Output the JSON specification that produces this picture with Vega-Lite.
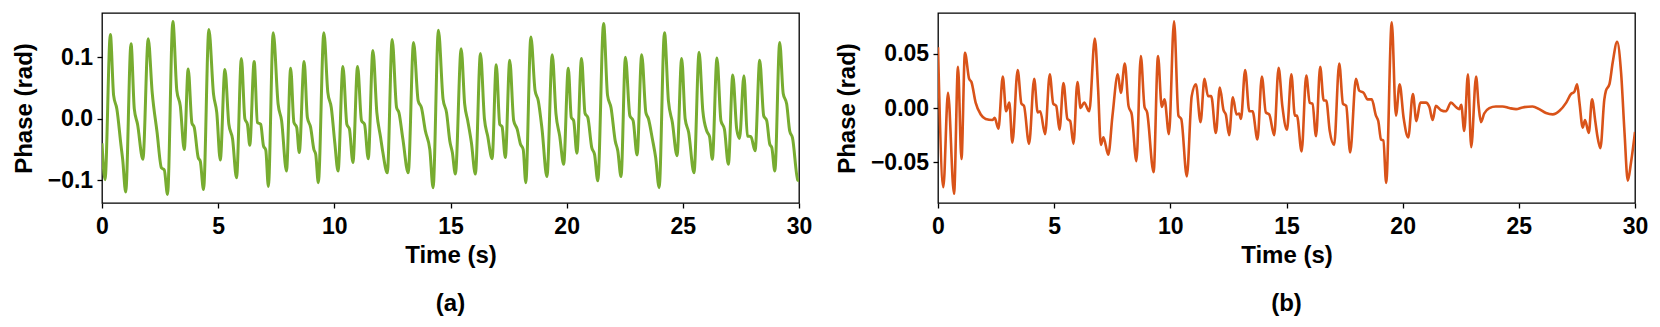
{
"$schema": "https://vega.github.io/schema/vega-lite/v6.json",
"background": "white",
"padding": {"left": 11, "top": 12, "right": 5, "bottom": 5},
"config": {
 "font": "Liberation Sans",
 "view": {"stroke": "black", "strokeWidth": 1.3},
 "axis": {"labelFont": "Liberation Sans", "labelFontWeight": "bold", "labelFontSize": 23, "labelColor": "black",
  "titleFont": "Liberation Sans", "titleFontWeight": "bold", "titleFontSize": 24, "titleColor": "black",
  "grid": false, "domain": false, "tickColor": "black", "tickWidth": 1.3, "tickSize": 5,
  "labelFlush": false, "labelOverlap": false},
 "axisX": {"labelPadding": 7.5, "titlePadding": 5},
 "axisY": {"labelPadding": 4.4, "titlePadding": 11},
 "title": {"font": "Liberation Sans", "fontWeight": "bold", "fontSize": 24, "color": "black", "orient": "bottom", "anchor": "middle", "frame": "group", "offset": 24},
 "concat": {"spacing": 21}
},
"datasets": {
 "a": [
{"t":0.00,"v":-0.040},{"t":0.13,"v":-0.099},{"t":0.36,"v":0.137},{"t":0.50,"v":0.038},{"t":0.64,"v":0.016},{"t":0.82,"v":-0.044},{"t":0.89,"v":-0.066},{"t":1.02,"v":-0.119},{"t":1.25,"v":0.122},{"t":1.39,"v":0.016},{"t":1.53,"v":-0.009},{"t":1.76,"v":-0.066},{"t":1.99,"v":0.130},{"t":2.16,"v":0.043},{"t":2.37,"v":-0.022},{"t":2.56,"v":-0.080},{"t":2.68,"v":-0.083},{"t":2.82,"v":-0.123},{"t":3.05,"v":0.158},{"t":3.22,"v":0.046},{"t":3.37,"v":0.021},{"t":3.54,"v":-0.050},{"t":3.71,"v":0.081},{"t":3.87,"v":-0.007},{"t":3.97,"v":-0.014},{"t":4.14,"v":-0.063},{"t":4.23,"v":-0.069},{"t":4.37,"v":-0.115},{"t":4.60,"v":0.145},{"t":4.80,"v":0.040},{"t":4.94,"v":0.010},{"t":5.09,"v":-0.067},{"t":5.29,"v":0.080},{"t":5.46,"v":-0.009},{"t":5.62,"v":-0.033},{"t":5.79,"v":-0.096},{"t":6.00,"v":0.098},{"t":6.15,"v":0.000},{"t":6.26,"v":-0.009},{"t":6.36,"v":-0.043},{"t":6.55,"v":0.093},{"t":6.69,"v":-0.006},{"t":6.83,"v":-0.009},{"t":6.95,"v":-0.044},{"t":7.05,"v":-0.051},{"t":7.16,"v":-0.110},{"t":7.37,"v":0.140},{"t":7.58,"v":0.024},{"t":7.73,"v":-0.003},{"t":7.94,"v":-0.085},{"t":8.12,"v":0.082},{"t":8.26,"v":-0.006},{"t":8.38,"v":-0.014},{"t":8.49,"v":-0.055},{"t":8.70,"v":0.093},{"t":8.84,"v":0.002},{"t":8.98,"v":-0.014},{"t":9.12,"v":-0.050},{"t":9.20,"v":-0.058},{"t":9.31,"v":-0.104},{"t":9.55,"v":0.140},{"t":9.72,"v":0.043},{"t":9.87,"v":0.018},{"t":10.02,"v":-0.039},{"t":10.16,"v":-0.085},{"t":10.37,"v":0.085},{"t":10.54,"v":-0.009},{"t":10.65,"v":-0.017},{"t":10.80,"v":-0.071},{"t":11.00,"v":0.085},{"t":11.17,"v":-0.003},{"t":11.30,"v":-0.009},{"t":11.46,"v":-0.065},{"t":11.66,"v":0.111},{"t":11.83,"v":0.010},{"t":11.99,"v":-0.030},{"t":12.09,"v":-0.055},{"t":12.28,"v":-0.088},{"t":12.49,"v":0.129},{"t":12.68,"v":0.018},{"t":12.78,"v":0.010},{"t":12.95,"v":-0.033},{"t":13.18,"v":-0.088},{"t":13.41,"v":0.124},{"t":13.61,"v":0.029},{"t":13.75,"v":0.018},{"t":13.92,"v":-0.020},{"t":14.11,"v":-0.050},{"t":14.25,"v":-0.112},{"t":14.48,"v":0.144},{"t":14.68,"v":0.032},{"t":14.83,"v":0.010},{"t":14.97,"v":-0.036},{"t":15.08,"v":-0.055},{"t":15.21,"v":-0.090},{"t":15.46,"v":0.114},{"t":15.61,"v":0.024},{"t":15.74,"v":-0.003},{"t":15.90,"v":-0.039},{"t":16.07,"v":-0.090},{"t":16.29,"v":0.106},{"t":16.46,"v":0.000},{"t":16.60,"v":-0.028},{"t":16.79,"v":-0.065},{"t":16.97,"v":0.088},{"t":17.12,"v":-0.009},{"t":17.22,"v":-0.013},{"t":17.36,"v":-0.063},{"t":17.55,"v":0.095},{"t":17.72,"v":-0.003},{"t":17.87,"v":-0.017},{"t":18.01,"v":-0.041},{"t":18.13,"v":-0.050},{"t":18.24,"v":-0.104},{"t":18.46,"v":0.133},{"t":18.64,"v":0.046},{"t":18.78,"v":0.029},{"t":18.94,"v":-0.017},{"t":19.15,"v":-0.094},{"t":19.38,"v":0.104},{"t":19.54,"v":0.008},{"t":19.70,"v":-0.028},{"t":19.87,"v":-0.074},{"t":20.07,"v":0.082},{"t":20.20,"v":0.002},{"t":20.30,"v":-0.003},{"t":20.44,"v":-0.056},{"t":20.64,"v":0.098},{"t":20.79,"v":0.009},{"t":20.91,"v":0.002},{"t":21.08,"v":-0.047},{"t":21.20,"v":-0.058},{"t":21.34,"v":-0.101},{"t":21.59,"v":0.155},{"t":21.76,"v":0.038},{"t":21.91,"v":0.018},{"t":22.09,"v":-0.036},{"t":22.20,"v":-0.052},{"t":22.34,"v":-0.094},{"t":22.53,"v":0.100},{"t":22.72,"v":0.005},{"t":22.86,"v":-0.003},{"t":23.03,"v":-0.059},{"t":23.23,"v":0.104},{"t":23.41,"v":0.010},{"t":23.52,"v":0.000},{"t":23.69,"v":-0.033},{"t":23.83,"v":-0.063},{"t":23.98,"v":-0.112},{"t":24.21,"v":0.140},{"t":24.38,"v":0.029},{"t":24.55,"v":-0.006},{"t":24.75,"v":-0.060},{"t":24.95,"v":0.098},{"t":25.10,"v":0.000},{"t":25.25,"v":-0.022},{"t":25.48,"v":-0.088},{"t":25.70,"v":0.108},{"t":25.86,"v":0.013},{"t":26.03,"v":-0.020},{"t":26.15,"v":-0.029},{"t":26.27,"v":-0.066},{"t":26.47,"v":0.099},{"t":26.64,"v":-0.003},{"t":26.79,"v":-0.017},{"t":26.96,"v":-0.074},{"t":27.15,"v":0.071},{"t":27.32,"v":-0.017},{"t":27.44,"v":-0.032},{"t":27.63,"v":0.070},{"t":27.78,"v":-0.028},{"t":27.93,"v":-0.029},{"t":28.11,"v":-0.052},{"t":28.31,"v":0.095},{"t":28.48,"v":0.005},{"t":28.61,"v":-0.003},{"t":28.74,"v":-0.041},{"t":28.83,"v":-0.047},{"t":28.96,"v":-0.085},{"t":29.17,"v":0.124},{"t":29.32,"v":0.041},{"t":29.47,"v":0.024},{"t":29.60,"v":-0.020},{"t":29.72,"v":-0.031},{"t":29.95,"v":-0.100},{"t":30.00,"v":-0.101}
 ],
 "b": [
{"t":0.00,"v":0.056},{"t":0.23,"v":-0.073},{"t":0.43,"v":0.014},{"t":0.69,"v":-0.079},{"t":0.86,"v":0.038},{"t":1.01,"v":-0.047},{"t":1.16,"v":0.051},{"t":1.34,"v":0.027},{"t":1.44,"v":0.024},{"t":1.62,"v":0.005},{"t":1.84,"v":-0.006},{"t":2.05,"v":-0.010},{"t":2.34,"v":-0.011},{"t":2.44,"v":-0.009},{"t":2.60,"v":-0.019},{"t":2.79,"v":0.029},{"t":2.93,"v":-0.003},{"t":3.07,"v":0.005},{"t":3.20,"v":-0.032},{"t":3.43,"v":0.035},{"t":3.59,"v":0.004},{"t":3.70,"v":0.002},{"t":3.92,"v":-0.033},{"t":4.14,"v":0.027},{"t":4.29,"v":-0.004},{"t":4.40,"v":-0.003},{"t":4.61,"v":-0.024},{"t":4.81,"v":0.031},{"t":4.96,"v":0.004},{"t":5.09,"v":0.002},{"t":5.23,"v":-0.020},{"t":5.40,"v":0.023},{"t":5.57,"v":-0.010},{"t":5.69,"v":-0.012},{"t":5.83,"v":-0.033},{"t":6.00,"v":0.024},{"t":6.14,"v":0.000},{"t":6.29,"v":0.005},{"t":6.51,"v":-0.003},{"t":6.75,"v":0.064},{"t":6.89,"v":0.018},{"t":7.01,"v":-0.034},{"t":7.12,"v":-0.027},{"t":7.33,"v":-0.043},{"t":7.51,"v":-0.007},{"t":7.74,"v":0.031},{"t":7.87,"v":0.014},{"t":8.04,"v":0.041},{"t":8.20,"v":0.002},{"t":8.34,"v":-0.006},{"t":8.54,"v":-0.049},{"t":8.73,"v":0.048},{"t":8.89,"v":0.001},{"t":9.00,"v":-0.004},{"t":9.28,"v":-0.059},{"t":9.47,"v":0.048},{"t":9.63,"v":0.001},{"t":9.75,"v":0.008},{"t":9.94,"v":-0.024},{"t":10.16,"v":0.080},{"t":10.35,"v":-0.007},{"t":10.47,"v":-0.010},{"t":10.71,"v":-0.063},{"t":10.92,"v":0.011},{"t":11.10,"v":0.022},{"t":11.30,"v":-0.013},{"t":11.47,"v":0.027},{"t":11.62,"v":0.011},{"t":11.76,"v":0.011},{"t":11.96,"v":-0.023},{"t":12.13,"v":0.019},{"t":12.29,"v":-0.002},{"t":12.39,"v":-0.006},{"t":12.53,"v":-0.025},{"t":12.69,"v":0.010},{"t":12.85,"v":-0.006},{"t":12.96,"v":-0.005},{"t":13.04,"v":-0.010},{"t":13.22,"v":0.035},{"t":13.40,"v":-0.003},{"t":13.54,"v":-0.003},{"t":13.75,"v":-0.029},{"t":13.94,"v":0.029},{"t":14.11,"v":-0.004},{"t":14.26,"v":-0.006},{"t":14.47,"v":-0.025},{"t":14.66,"v":0.037},{"t":14.82,"v":0.002},{"t":15.02,"v":-0.020},{"t":15.21,"v":0.031},{"t":15.36,"v":-0.007},{"t":15.45,"v":-0.007},{"t":15.65,"v":-0.040},{"t":15.85,"v":0.030},{"t":16.00,"v":0.005},{"t":16.12,"v":0.004},{"t":16.27,"v":-0.026},{"t":16.45,"v":0.038},{"t":16.60,"v":0.007},{"t":16.71,"v":0.007},{"t":16.86,"v":-0.021},{"t":17.05,"v":-0.034},{"t":17.27,"v":0.041},{"t":17.43,"v":0.004},{"t":17.57,"v":0.002},{"t":17.74,"v":-0.041},{"t":17.99,"v":0.027},{"t":18.13,"v":0.016},{"t":18.32,"v":0.014},{"t":18.49,"v":0.008},{"t":18.67,"v":0.008},{"t":18.85,"v":-0.007},{"t":18.95,"v":-0.012},{"t":19.07,"v":-0.029},{"t":19.17,"v":-0.030},{"t":19.29,"v":-0.069},{"t":19.53,"v":0.079},{"t":19.71,"v":-0.007},{"t":19.87,"v":0.022},{"t":20.04,"v":-0.009},{"t":20.24,"v":-0.027},{"t":20.44,"v":0.013},{"t":20.59,"v":-0.012},{"t":20.76,"v":0.005},{"t":21.00,"v":0.005},{"t":21.15,"v":0.001},{"t":21.29,"v":-0.011},{"t":21.43,"v":0.002},{"t":21.65,"v":-0.002},{"t":21.86,"v":-0.003},{"t":22.08,"v":0.005},{"t":22.29,"v":0.001},{"t":22.44,"v":-0.001},{"t":22.52,"v":0.003},{"t":22.65,"v":-0.021},{"t":22.81,"v":0.031},{"t":22.95,"v":-0.036},{"t":23.16,"v":0.029},{"t":23.27,"v":0.002},{"t":23.37,"v":-0.013},{"t":23.51,"v":-0.005},{"t":23.73,"v":0.000},{"t":24.01,"v":0.0015},{"t":24.30,"v":0.0015},{"t":24.59,"v":0.000},{"t":24.88,"v":-0.001},{"t":25.16,"v":0.0006},{"t":25.59,"v":0.0015},{"t":25.88,"v":-0.001},{"t":26.17,"v":-0.0046},{"t":26.46,"v":-0.0058},{"t":26.75,"v":-0.0025},{"t":27.04,"v":0.005},{"t":27.25,"v":0.013},{"t":27.39,"v":0.015},{"t":27.51,"v":0.022},{"t":27.61,"v":0.005},{"t":27.75,"v":-0.018},{"t":27.85,"v":-0.011},{"t":28.01,"v":-0.023},{"t":28.15,"v":0.008},{"t":28.29,"v":-0.012},{"t":28.39,"v":-0.027},{"t":28.51,"v":-0.037},{"t":28.68,"v":0.008},{"t":28.75,"v":0.016},{"t":28.90,"v":0.022},{"t":29.04,"v":0.042},{"t":29.23,"v":0.061},{"t":29.40,"v":0.033},{"t":29.55,"v":-0.023},{"t":29.69,"v":-0.067},{"t":29.83,"v":-0.050},{"t":30.00,"v":-0.022}
 ]
},
"hconcat": [
 {
  "width": 697, "height": 190,
  "title": {"text": "(a)"},
  "data": {"name": "a"},
  "mark": {"type": "line", "color": "#77AC30", "strokeWidth": 3, "interpolate": "monotone", "clip": true},
  "encoding": {
   "x": {"field": "t", "type": "quantitative", "title": "Time (s)", "scale": {"domain": [0, 30], "nice": false, "zero": false}, "axis": {"values": [0,5,10,15,20,25,30], "format": "d"}},
   "y": {"field": "v", "type": "quantitative", "title": "Phase (rad)", "scale": {"domain": [-0.137, 0.172], "nice": false, "zero": false}, "axis": {"values": [-0.1, 0, 0.1], "format": ".1f"}}
  }
 },
 {
  "width": 697, "height": 190,
  "title": {"text": "(b)"},
  "data": {"name": "b"},
  "mark": {"type": "line", "color": "#D95319", "strokeWidth": 2.6, "interpolate": "monotone", "clip": true},
  "encoding": {
   "x": {"field": "t", "type": "quantitative", "title": "Time (s)", "scale": {"domain": [0, 30], "nice": false, "zero": false}, "axis": {"values": [0,5,10,15,20,25,30], "format": "d"}},
   "y": {"field": "v", "type": "quantitative", "title": "Phase (rad)", "scale": {"domain": [-0.0875, 0.0876], "nice": false, "zero": false}, "axis": {"values": [-0.05, 0, 0.05], "format": ".2f"}}
  }
 }
]
}
